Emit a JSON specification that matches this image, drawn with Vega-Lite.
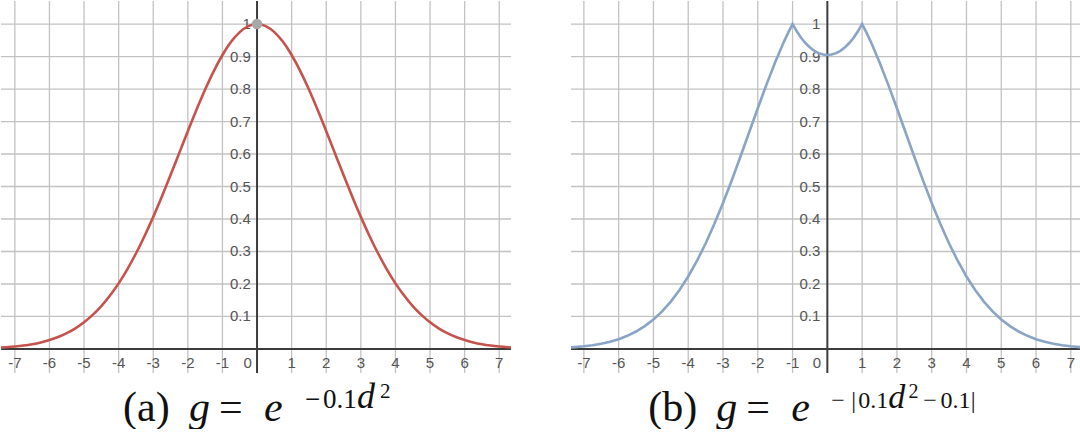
{
  "$schema": "https://vega.github.io/schema/vega-lite/v6.json",
  "padding": 0,
  "background": "white",
  "spacing": 58,
  "config": {"view": {"stroke": null}},
  "datasets": {
    "g1": [
      {"d": -7.4, "g": 0.00419}, {"d": -7.25, "g": 0.00522}, {"d": -7, "g": 0.00745}, {"d": -6.75, "g": 0.0105},
      {"d": -6.5, "g": 0.01463}, {"d": -6.25, "g": 0.02012}, {"d": -6, "g": 0.02732}, {"d": -5.75, "g": 0.03665},
      {"d": -5.5, "g": 0.04855}, {"d": -5.25, "g": 0.06353}, {"d": -5, "g": 0.08208}, {"d": -4.75, "g": 0.10475},
      {"d": -4.5, "g": 0.13199}, {"d": -4.25, "g": 0.16428}, {"d": -4, "g": 0.2019}, {"d": -3.75, "g": 0.24505},
      {"d": -3.5, "g": 0.29376}, {"d": -3.25, "g": 0.34778}, {"d": -3, "g": 0.40657}, {"d": -2.75, "g": 0.46942},
      {"d": -2.5, "g": 0.53526}, {"d": -2.25, "g": 0.60276}, {"d": -2, "g": 0.67032}, {"d": -1.75, "g": 0.7362},
      {"d": -1.5, "g": 0.79852}, {"d": -1.25, "g": 0.85535}, {"d": -1, "g": 0.90484}, {"d": -0.75, "g": 0.9453},
      {"d": -0.5, "g": 0.97531}, {"d": -0.25, "g": 0.99377}, {"d": 0, "g": 1},
      {"d": 0.25, "g": 0.99377}, {"d": 0.5, "g": 0.97531}, {"d": 0.75, "g": 0.9453}, {"d": 1, "g": 0.90484},
      {"d": 1.25, "g": 0.85535}, {"d": 1.5, "g": 0.79852}, {"d": 1.75, "g": 0.7362}, {"d": 2, "g": 0.67032},
      {"d": 2.25, "g": 0.60276}, {"d": 2.5, "g": 0.53526}, {"d": 2.75, "g": 0.46942}, {"d": 3, "g": 0.40657},
      {"d": 3.25, "g": 0.34778}, {"d": 3.5, "g": 0.29376}, {"d": 3.75, "g": 0.24505}, {"d": 4, "g": 0.2019},
      {"d": 4.25, "g": 0.16428}, {"d": 4.5, "g": 0.13199}, {"d": 4.75, "g": 0.10475}, {"d": 5, "g": 0.08208},
      {"d": 5.25, "g": 0.06353}, {"d": 5.5, "g": 0.04855}, {"d": 5.75, "g": 0.03665}, {"d": 6, "g": 0.02732},
      {"d": 6.25, "g": 0.02012}, {"d": 6.5, "g": 0.01463}, {"d": 6.75, "g": 0.0105}, {"d": 7, "g": 0.00745},
      {"d": 7.25, "g": 0.00522}, {"d": 7.4, "g": 0.00419}
    ],
    "g2": [
      {"d": -7.4, "g": 0.00463}, {"d": -7.25, "g": 0.00577}, {"d": -7, "g": 0.00823}, {"d": -6.75, "g": 0.0116},
      {"d": -6.5, "g": 0.01617}, {"d": -6.25, "g": 0.02224}, {"d": -6, "g": 0.0302}, {"d": -5.75, "g": 0.0405},
      {"d": -5.5, "g": 0.05366}, {"d": -5.25, "g": 0.07021}, {"d": -5, "g": 0.09071}, {"d": -4.75, "g": 0.11577},
      {"d": -4.5, "g": 0.14587}, {"d": -4.25, "g": 0.18156}, {"d": -4, "g": 0.22313}, {"d": -3.75, "g": 0.27082},
      {"d": -3.5, "g": 0.32466}, {"d": -3.25, "g": 0.38436}, {"d": -3, "g": 0.44933}, {"d": -2.75, "g": 0.51879},
      {"d": -2.5, "g": 0.59156}, {"d": -2.25, "g": 0.66615}, {"d": -2, "g": 0.74082}, {"d": -1.75, "g": 0.81363},
      {"d": -1.5, "g": 0.8825}, {"d": -1.25, "g": 0.94531}, {"d": -1.125, "g": 0.97379}, {"d": -1, "g": 1},
      {"d": -0.875, "g": 0.97684}, {"d": -0.75, "g": 0.95719}, {"d": -0.625, "g": 0.94089}, {"d": -0.5, "g": 0.92775},
      {"d": -0.375, "g": 0.91765}, {"d": -0.25, "g": 0.91051}, {"d": -0.125, "g": 0.90625}, {"d": 0, "g": 0.90484},
      {"d": 0.125, "g": 0.90625}, {"d": 0.25, "g": 0.91051}, {"d": 0.375, "g": 0.91765}, {"d": 0.5, "g": 0.92775},
      {"d": 0.625, "g": 0.94089}, {"d": 0.75, "g": 0.95719}, {"d": 0.875, "g": 0.97684}, {"d": 1, "g": 1},
      {"d": 1.125, "g": 0.97379}, {"d": 1.25, "g": 0.94531}, {"d": 1.5, "g": 0.8825}, {"d": 1.75, "g": 0.81363},
      {"d": 2, "g": 0.74082}, {"d": 2.25, "g": 0.66615}, {"d": 2.5, "g": 0.59156}, {"d": 2.75, "g": 0.51879},
      {"d": 3, "g": 0.44933}, {"d": 3.25, "g": 0.38436}, {"d": 3.5, "g": 0.32466}, {"d": 3.75, "g": 0.27082},
      {"d": 4, "g": 0.22313}, {"d": 4.25, "g": 0.18156}, {"d": 4.5, "g": 0.14587}, {"d": 4.75, "g": 0.11577},
      {"d": 5, "g": 0.09071}, {"d": 5.25, "g": 0.07021}, {"d": 5.5, "g": 0.05366}, {"d": 5.75, "g": 0.0405},
      {"d": 6, "g": 0.0302}, {"d": 6.25, "g": 0.02224}, {"d": 6.5, "g": 0.01617}, {"d": 6.75, "g": 0.0116},
      {"d": 7, "g": 0.00823}, {"d": 7.25, "g": 0.00577}, {"d": 7.4, "g": 0.00463}
    ],
    "xt": [
      {"v": -7, "t": "-7"}, {"v": -6, "t": "-6"}, {"v": -5, "t": "-5"}, {"v": -4, "t": "-4"}, {"v": -3, "t": "-3"},
      {"v": -2, "t": "-2"}, {"v": -1, "t": "-1"}, {"v": 1, "t": "1"}, {"v": 2, "t": "2"}, {"v": 3, "t": "3"},
      {"v": 4, "t": "4"}, {"v": 5, "t": "5"}, {"v": 6, "t": "6"}, {"v": 7, "t": "7"}
    ],
    "yt": [
      {"v": 0.1, "t": "0.1"}, {"v": 0.2, "t": "0.2"}, {"v": 0.3, "t": "0.3"}, {"v": 0.4, "t": "0.4"}, {"v": 0.5, "t": "0.5"},
      {"v": 0.6, "t": "0.6"}, {"v": 0.7, "t": "0.7"}, {"v": 0.8, "t": "0.8"}, {"v": 0.9, "t": "0.9"}, {"v": 1, "t": "1"}
    ],
    "cap1": [
      {"x": -3.873, "text": "(a)", "kind": "main"},
      {"x": -1.965, "text": "g", "kind": "mainItalic"},
      {"x": -1.098, "text": "=", "kind": "main"},
      {"x": 0.202, "text": "e", "kind": "mainItalic"},
      {"x": 1.387, "text": "−", "kind": "sup"},
      {"x": 1.907, "text": "0.1", "kind": "sup"},
      {"x": 2.89, "text": "d", "kind": "supItalic"},
      {"x": 3.555, "text": "2", "kind": "supsup"}
    ],
    "cap2": [
      {"x": -5.147, "text": "(b)", "kind": "main"},
      {"x": -3.191, "text": "g", "kind": "mainItalic"},
      {"x": -2.329, "text": "=", "kind": "main"},
      {"x": -1.035, "text": "e", "kind": "mainItalic"},
      {"x": 0.115, "text": "−", "kind": "sup"},
      {"x": 0.69, "text": "|", "kind": "sup"},
      {"x": 0.891, "text": "0.1", "kind": "sup"},
      {"x": 1.75, "text": "d", "kind": "supItalic"},
      {"x": 2.33, "text": "2", "kind": "supsup"},
      {"x": 2.76, "text": "−", "kind": "sup"},
      {"x": 3.25, "text": "0.1", "kind": "sup"},
      {"x": 4.12, "text": "|", "kind": "sup"}
    ]
  },
  "hconcat": [
    {
      "width": 510,
      "height": 372,
      "layer": [
        {
          "data": {"name": "xt"},
          "mark": {"type": "rule", "color": "#c2c2c2", "strokeWidth": 1.3},
          "encoding": {"x": {"field": "v", "type": "quantitative", "scale": {"domain": [-7.4, 7.34], "nice": false, "zero": false}, "axis": null}}
        },
        {
          "data": {"name": "yt"},
          "mark": {"type": "rule", "color": "#c2c2c2", "strokeWidth": 1.3},
          "encoding": {"y": {"field": "v", "type": "quantitative", "scale": {"domain": [-0.074, 1.071], "nice": false, "zero": false}, "axis": null}}
        },
        {
          "data": {"values": [{}]},
          "mark": {"type": "rule", "color": "#3c3c3c", "strokeWidth": 2},
          "encoding": {"x": {"datum": 0, "type": "quantitative", "scale": {"domain": [-7.4, 7.34], "nice": false, "zero": false}, "axis": null}}
        },
        {
          "data": {"values": [{}]},
          "mark": {"type": "rule", "color": "#3c3c3c", "strokeWidth": 2},
          "encoding": {"y": {"datum": 0, "type": "quantitative", "scale": {"domain": [-0.074, 1.071], "nice": false, "zero": false}, "axis": null}}
        },
        {
          "data": {"name": "xt"},
          "mark": {"type": "text", "font": "Liberation Sans", "fontSize": 15, "fill": "#555555", "align": "center", "baseline": "middle"},
          "encoding": {
            "x": {"field": "v", "type": "quantitative", "scale": {"domain": [-7.4, 7.34], "nice": false, "zero": false}, "axis": null},
            "y": {"datum": -0.044, "type": "quantitative", "scale": {"domain": [-0.074, 1.071], "nice": false, "zero": false}, "axis": null},
            "text": {"field": "t"}
          }
        },
        {
          "data": {"values": [{"t": "0"}]},
          "mark": {"type": "text", "font": "Liberation Sans", "fontSize": 15, "fill": "#555555", "align": "center", "baseline": "middle"},
          "encoding": {
            "x": {"datum": -0.27, "type": "quantitative", "scale": {"domain": [-7.4, 7.34], "nice": false, "zero": false}, "axis": null},
            "y": {"datum": -0.044, "type": "quantitative", "scale": {"domain": [-0.074, 1.071], "nice": false, "zero": false}, "axis": null},
            "text": {"field": "t"}
          }
        },
        {
          "data": {"name": "yt"},
          "mark": {"type": "text", "font": "Liberation Sans", "fontSize": 15, "fill": "#555555", "align": "right", "baseline": "middle"},
          "encoding": {
            "x": {"datum": -0.18, "type": "quantitative", "scale": {"domain": [-7.4, 7.34], "nice": false, "zero": false}, "axis": null},
            "y": {"field": "v", "type": "quantitative", "scale": {"domain": [-0.074, 1.071], "nice": false, "zero": false}, "axis": null},
            "text": {"field": "t"}
          }
        },
        {
          "data": {"name": "g1"},
          "mark": {"type": "line", "color": "#c6524c", "strokeWidth": 2.6, "interpolate": "monotone", "clip": true},
          "encoding": {
            "x": {"field": "d", "type": "quantitative", "scale": {"domain": [-7.4, 7.34], "nice": false, "zero": false}, "axis": null},
            "y": {"field": "g", "type": "quantitative", "scale": {"domain": [-0.074, 1.071], "nice": false, "zero": false}, "axis": null}
          }
        },
        {
          "data": {"values": [{"d": 0, "g": 1}]},
          "mark": {"type": "point", "filled": true, "color": "#a8a8a8", "size": 110, "opacity": 1},
          "encoding": {
            "x": {"field": "d", "type": "quantitative", "scale": {"domain": [-7.4, 7.34], "nice": false, "zero": false}, "axis": null},
            "y": {"field": "g", "type": "quantitative", "scale": {"domain": [-0.074, 1.071], "nice": false, "zero": false}, "axis": null}
          }
        },
        {
          "data": {"name": "cap1"},
          "transform": [{"filter": "datum.kind === 'main'"}],
          "mark": {"type": "text", "font": "Liberation Serif", "fontSize": 42, "fill": "#111111", "align": "left", "baseline": "alphabetic"},
          "encoding": {
            "x": {"field": "x", "type": "quantitative", "scale": {"domain": [-7.4, 7.34], "nice": false, "zero": false}, "axis": null},
            "y": {"datum": -0.2216, "type": "quantitative", "scale": {"domain": [-0.074, 1.071], "nice": false, "zero": false}, "axis": null},
            "text": {"field": "text"}
          }
        },
        {
          "data": {"name": "cap1"},
          "transform": [{"filter": "datum.kind === 'mainItalic'"}],
          "mark": {"type": "text", "font": "Liberation Serif", "fontSize": 42, "fontStyle": "italic", "fill": "#111111", "align": "left", "baseline": "alphabetic"},
          "encoding": {
            "x": {"field": "x", "type": "quantitative", "scale": {"domain": [-7.4, 7.34], "nice": false, "zero": false}, "axis": null},
            "y": {"datum": -0.2216, "type": "quantitative", "scale": {"domain": [-0.074, 1.071], "nice": false, "zero": false}, "axis": null},
            "text": {"field": "text"}
          }
        },
        {
          "data": {"name": "cap1"},
          "transform": [{"filter": "datum.kind === 'sup'"}],
          "mark": {"type": "text", "font": "Liberation Serif", "fontSize": 27, "fill": "#111111", "align": "left", "baseline": "alphabetic"},
          "encoding": {
            "x": {"field": "x", "type": "quantitative", "scale": {"domain": [-7.4, 7.34], "nice": false, "zero": false}, "axis": null},
            "y": {"datum": -0.1816, "type": "quantitative", "scale": {"domain": [-0.074, 1.071], "nice": false, "zero": false}, "axis": null},
            "text": {"field": "text"}
          }
        },
        {
          "data": {"name": "cap1"},
          "transform": [{"filter": "datum.kind === 'supItalic'"}],
          "mark": {"type": "text", "font": "Liberation Serif", "fontSize": 36, "fontStyle": "italic", "fill": "#111111", "align": "left", "baseline": "alphabetic"},
          "encoding": {
            "x": {"field": "x", "type": "quantitative", "scale": {"domain": [-7.4, 7.34], "nice": false, "zero": false}, "axis": null},
            "y": {"datum": -0.1816, "type": "quantitative", "scale": {"domain": [-0.074, 1.071], "nice": false, "zero": false}, "axis": null},
            "text": {"field": "text"}
          }
        },
        {
          "data": {"name": "cap1"},
          "transform": [{"filter": "datum.kind === 'supsup'"}],
          "mark": {"type": "text", "font": "Liberation Serif", "fontSize": 21, "fill": "#111111", "align": "left", "baseline": "alphabetic"},
          "encoding": {
            "x": {"field": "x", "type": "quantitative", "scale": {"domain": [-7.4, 7.34], "nice": false, "zero": false}, "axis": null},
            "y": {"datum": -0.151, "type": "quantitative", "scale": {"domain": [-0.074, 1.071], "nice": false, "zero": false}, "axis": null},
            "text": {"field": "text"}
          }
        }
      ]
    },
    {
      "width": 512,
      "height": 372,
      "layer": [
        {
          "data": {"name": "xt"},
          "mark": {"type": "rule", "color": "#c2c2c2", "strokeWidth": 1.3},
          "encoding": {"x": {"field": "v", "type": "quantitative", "scale": {"domain": [-7.37, 7.35], "nice": false, "zero": false}, "axis": null}}
        },
        {
          "data": {"name": "yt"},
          "mark": {"type": "rule", "color": "#c2c2c2", "strokeWidth": 1.3},
          "encoding": {"y": {"field": "v", "type": "quantitative", "scale": {"domain": [-0.074, 1.071], "nice": false, "zero": false}, "axis": null}}
        },
        {
          "data": {"values": [{}]},
          "mark": {"type": "rule", "color": "#3c3c3c", "strokeWidth": 2},
          "encoding": {"x": {"datum": 0, "type": "quantitative", "scale": {"domain": [-7.37, 7.35], "nice": false, "zero": false}, "axis": null}}
        },
        {
          "data": {"values": [{}]},
          "mark": {"type": "rule", "color": "#3c3c3c", "strokeWidth": 2},
          "encoding": {"y": {"datum": 0, "type": "quantitative", "scale": {"domain": [-0.074, 1.071], "nice": false, "zero": false}, "axis": null}}
        },
        {
          "data": {"name": "xt"},
          "mark": {"type": "text", "font": "Liberation Sans", "fontSize": 15, "fill": "#555555", "align": "center", "baseline": "middle"},
          "encoding": {
            "x": {"field": "v", "type": "quantitative", "scale": {"domain": [-7.37, 7.35], "nice": false, "zero": false}, "axis": null},
            "y": {"datum": -0.044, "type": "quantitative", "scale": {"domain": [-0.074, 1.071], "nice": false, "zero": false}, "axis": null},
            "text": {"field": "t"}
          }
        },
        {
          "data": {"values": [{"t": "0"}]},
          "mark": {"type": "text", "font": "Liberation Sans", "fontSize": 15, "fill": "#555555", "align": "center", "baseline": "middle"},
          "encoding": {
            "x": {"datum": -0.3, "type": "quantitative", "scale": {"domain": [-7.37, 7.35], "nice": false, "zero": false}, "axis": null},
            "y": {"datum": -0.044, "type": "quantitative", "scale": {"domain": [-0.074, 1.071], "nice": false, "zero": false}, "axis": null},
            "text": {"field": "t"}
          }
        },
        {
          "data": {"name": "yt"},
          "mark": {"type": "text", "font": "Liberation Sans", "fontSize": 15, "fill": "#555555", "align": "right", "baseline": "middle"},
          "encoding": {
            "x": {"datum": -0.2, "type": "quantitative", "scale": {"domain": [-7.37, 7.35], "nice": false, "zero": false}, "axis": null},
            "y": {"field": "v", "type": "quantitative", "scale": {"domain": [-0.074, 1.071], "nice": false, "zero": false}, "axis": null},
            "text": {"field": "t"}
          }
        },
        {
          "data": {"name": "g2"},
          "mark": {"type": "line", "color": "#8aa4c6", "strokeWidth": 2.6, "interpolate": "linear", "clip": true},
          "encoding": {
            "x": {"field": "d", "type": "quantitative", "scale": {"domain": [-7.37, 7.35], "nice": false, "zero": false}, "axis": null},
            "y": {"field": "g", "type": "quantitative", "scale": {"domain": [-0.074, 1.071], "nice": false, "zero": false}, "axis": null}
          }
        },
        {
          "data": {"name": "cap2"},
          "transform": [{"filter": "datum.kind === 'main'"}],
          "mark": {"type": "text", "font": "Liberation Serif", "fontSize": 42, "fill": "#111111", "align": "left", "baseline": "alphabetic"},
          "encoding": {
            "x": {"field": "x", "type": "quantitative", "scale": {"domain": [-7.37, 7.35], "nice": false, "zero": false}, "axis": null},
            "y": {"datum": -0.2216, "type": "quantitative", "scale": {"domain": [-0.074, 1.071], "nice": false, "zero": false}, "axis": null},
            "text": {"field": "text"}
          }
        },
        {
          "data": {"name": "cap2"},
          "transform": [{"filter": "datum.kind === 'mainItalic'"}],
          "mark": {"type": "text", "font": "Liberation Serif", "fontSize": 42, "fontStyle": "italic", "fill": "#111111", "align": "left", "baseline": "alphabetic"},
          "encoding": {
            "x": {"field": "x", "type": "quantitative", "scale": {"domain": [-7.37, 7.35], "nice": false, "zero": false}, "axis": null},
            "y": {"datum": -0.2216, "type": "quantitative", "scale": {"domain": [-0.074, 1.071], "nice": false, "zero": false}, "axis": null},
            "text": {"field": "text"}
          }
        },
        {
          "data": {"name": "cap2"},
          "transform": [{"filter": "datum.kind === 'sup'"}],
          "mark": {"type": "text", "font": "Liberation Serif", "fontSize": 24, "fill": "#111111", "align": "left", "baseline": "alphabetic"},
          "encoding": {
            "x": {"field": "x", "type": "quantitative", "scale": {"domain": [-7.37, 7.35], "nice": false, "zero": false}, "axis": null},
            "y": {"datum": -0.1816, "type": "quantitative", "scale": {"domain": [-0.074, 1.071], "nice": false, "zero": false}, "axis": null},
            "text": {"field": "text"}
          }
        },
        {
          "data": {"name": "cap2"},
          "transform": [{"filter": "datum.kind === 'supItalic'"}],
          "mark": {"type": "text", "font": "Liberation Serif", "fontSize": 34, "fontStyle": "italic", "fill": "#111111", "align": "left", "baseline": "alphabetic"},
          "encoding": {
            "x": {"field": "x", "type": "quantitative", "scale": {"domain": [-7.37, 7.35], "nice": false, "zero": false}, "axis": null},
            "y": {"datum": -0.1816, "type": "quantitative", "scale": {"domain": [-0.074, 1.071], "nice": false, "zero": false}, "axis": null},
            "text": {"field": "text"}
          }
        },
        {
          "data": {"name": "cap2"},
          "transform": [{"filter": "datum.kind === 'supsup'"}],
          "mark": {"type": "text", "font": "Liberation Serif", "fontSize": 20, "fill": "#111111", "align": "left", "baseline": "alphabetic"},
          "encoding": {
            "x": {"field": "x", "type": "quantitative", "scale": {"domain": [-7.37, 7.35], "nice": false, "zero": false}, "axis": null},
            "y": {"datum": -0.151, "type": "quantitative", "scale": {"domain": [-0.074, 1.071], "nice": false, "zero": false}, "axis": null},
            "text": {"field": "text"}
          }
        }
      ]
    }
  ]
}
